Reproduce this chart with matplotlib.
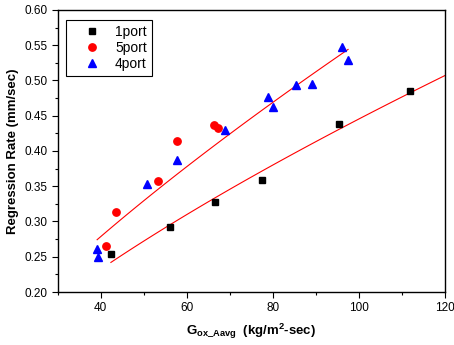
import numpy as np
import matplotlib
matplotlib.use("Agg")
import matplotlib.pyplot as plt
from matplotlib.ticker import MultipleLocator, FormatStrFormatter

plt.rcParams["font.family"] = ["Liberation Sans", "DejaVu Sans"]
plt.rcParams["mathtext.fontset"] = "custom"
plt.rcParams["mathtext.rm"] = "Liberation Sans"
plt.rcParams["mathtext.bf"] = "Liberation Sans:bold"
plt.rcParams["mathtext.default"] = "bf"

# 1 port
g_1port = [42.4, 56.1, 66.6, 77.4, 95.4, 112.0]
r_1port = [0.2535, 0.2926, 0.3277, 0.359, 0.438, 0.4855]
# 5 port
g_5port = [41.2, 43.6, 53.3, 57.7, 66.3, 67.2]
r_5port = [0.265, 0.314, 0.358, 0.4146, 0.4364, 0.433]
# 4 port
g_4port = [39.2, 39.5, 50.8, 57.8, 69.0, 79.0, 80.1, 85.3, 89.2, 96.0, 97.5]
r_4port = [0.2614, 0.250, 0.3527, 0.387, 0.4298, 0.476, 0.462, 0.4936, 0.495, 0.547, 0.529]


def power_fit(x, y, x0, x1):
    # r = a * G^n, least squares in linear space (scan n, closed form a)
    x, y = np.asarray(x), np.asarray(y)
    best = None
    for n in np.linspace(0.2, 1.5, 1301):
        xn = x ** n
        a = (y * xn).sum() / (xn * xn).sum()
        sse = ((y - a * xn) ** 2).sum()
        if best is None or sse < best[0]:
            best = (sse, a, n)
    _, a, n = best
    xs = np.linspace(x0, x1, 100)
    return xs, a * xs ** n


fig = plt.figure(figsize=(4.54, 3.45), dpi=100)
ax = fig.add_axes([0.1267, 0.1536, 0.8533, 0.8175])

ax.plot(g_1port, r_1port, "s", color="black", ms=4.6, label="1port", zorder=3)
ax.plot(g_5port, r_5port, "o", color="#ff0000", ms=5.3, label="5port", zorder=3)
ax.plot(g_4port, r_4port, "^", color="#0000ff", ms=6.2, label="4port", zorder=3)

xs, ys = power_fit(g_1port, r_1port, min(g_1port), 120)
ax.plot(xs, ys, color="#ff0000", lw=0.8, zorder=2)
xs, ys = power_fit(g_4port, r_4port, min(g_4port), max(g_4port))
ax.plot(xs, ys, color="#ff0000", lw=0.8, zorder=2)

ax.set_xlim(30, 120)
ax.set_ylim(0.20, 0.60)
ax.set_xticks([40, 60, 80, 100, 120])
ax.xaxis.set_minor_locator(MultipleLocator(10))
ax.yaxis.set_major_locator(MultipleLocator(0.05))
ax.yaxis.set_minor_locator(MultipleLocator(0.025))
ax.yaxis.set_major_formatter(FormatStrFormatter("%.2f"))
ax.tick_params(which="major", direction="out", length=4, width=0.8, labelsize=8.5, pad=3)
ax.tick_params(which="minor", direction="out", length=2.5, width=0.8)
for s in ax.spines.values():
    s.set_linewidth(1.0)

ax.set_ylabel("Regression Rate (mm/sec)", fontsize=9.5, fontweight="bold", labelpad=4)
ax.set_xlabel(r"G$_{ox\_Aavg}$  (kg/m$^{2}$-sec)", fontsize=9.5, fontweight="bold", labelpad=6)

leg = ax.legend(loc="upper left", bbox_to_anchor=(0.005, 0.99), fontsize=10,
                frameon=True, fancybox=False, edgecolor="black", framealpha=1,
                handletextpad=0.15, borderpad=0.35, labelspacing=0.15, handlelength=3.0)
leg.get_frame().set_linewidth(0.8)

fig.savefig("out.png", dpi=100)
